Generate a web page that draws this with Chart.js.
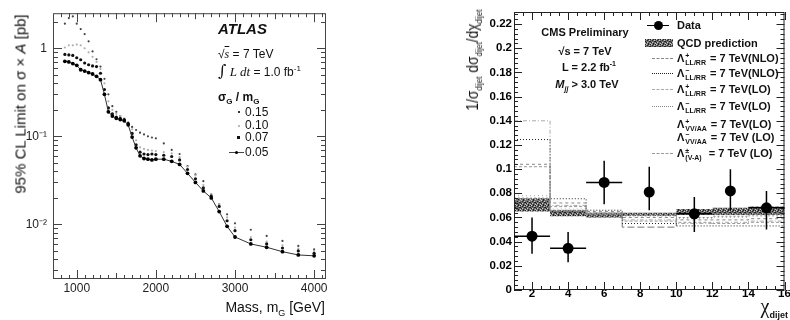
<!DOCTYPE html>
<html>
<head>
<meta charset="utf-8">
<script src="https://cdn.jsdelivr.net/npm/chart.js@4.4.1/dist/chart.umd.min.js"></script>
<style>
  body { margin:0; width:790px; height:320px; background:#fff; position:relative; overflow:hidden;
         font-family:"Liberation Sans", Arial, sans-serif; color:#111; }
  canvas { position:absolute; top:0; }
  #atlas { left:0; }
  #cms { left:400px; }
  .t { position:absolute; white-space:nowrap; line-height:1; }
  .b { font-weight:bold; }
  sub, sup { line-height:0; }
  .sym { position:absolute; }
  .st { display:inline-block; vertical-align:middle; font-size:7px; line-height:7px; margin:0 1px; }
  .st span { display:block; }
</style>
</head>
<body>
<canvas id="atlas" width="400" height="320"></canvas>
<canvas id="cms" width="390" height="320"></canvas>

<!-- ATLAS panel text -->
<div class="t" style="left:20px;top:104px;font-size:15px;transform:translate(-50%,-50%) rotate(-90deg)">95% CL Limit on σ × <i>A</i> [pb]</div>
<div class="t" style="right:465px;top:300px;font-size:14px">Mass, m<sub style="font-size:9px">G</sub> [GeV]</div>
<div class="t b" style="left:218px;top:21px;font-size:15px;font-style:italic">ATLAS</div>
<div class="t" style="left:218px;top:48px;font-size:12px">√<span style="text-decoration:overline;font-family:'Liberation Serif';font-style:italic">s</span> = 7 TeV</div>
<div class="t" style="left:218px;top:63px;font-size:12px"><span style="font-family:'DejaVu Serif';font-size:16px">∫</span> <i style="font-family:'Liberation Serif';font-size:13px">L dt</i> = 1.0 fb<sup style="font-size:8px">-1</sup></div>
<div class="t b" style="left:218px;top:91px;font-size:12px">σ<sub style="font-size:8px">G</sub> / m<sub style="font-size:8px">G</sub></div>
<div class="t" style="left:245px;top:106px;font-size:12px">0.15</div>
<div class="t" style="left:245px;top:119px;font-size:12px">0.10</div>
<div class="t" style="left:245px;top:131px;font-size:12px">0.07</div>
<div class="t" style="left:245px;top:146px;font-size:12px">0.05</div>
<div class="sym" style="left:238px;top:111px;width:2px;height:2px;background:#333"></div>
<div class="sym" style="left:238px;top:125px;width:2px;height:2px;background:#bbb"></div>
<div class="sym" style="left:237px;top:136px;width:3px;height:3px;background:#111"></div>
<div class="sym" style="left:229px;top:152px;width:15px;border-top:1px solid #444"></div>
<div class="sym" style="left:235px;top:151px;width:3px;height:3px;border-radius:2px;background:#000"></div>

<!-- CMS panel text -->
<div class="t" style="left:473px;top:60px;font-size:16px;transform:translate(-50%,-50%) rotate(-90deg) scaleX(0.86)">1/σ<sub style="font-size:9px">dijet</sub> dσ<sub style="font-size:9px">dijet</sub>/dχ<sub style="font-size:9px">dijet</sub></div>
<div class="t" style="right:2px;top:296px;font-size:20px;font-family:'Liberation Serif'">χ<sub style="font-size:9px;font-family:'Liberation Sans';font-weight:bold">dijet</sub></div>
<div class="t b" style="left:585px;top:27px;font-size:11px;transform:translateX(-50%)">CMS Preliminary</div>
<div class="t b" style="left:585px;top:46px;font-size:11px;transform:translateX(-50%)">√s = 7 TeV</div>
<div class="t b" style="left:589px;top:62px;font-size:11px;transform:translateX(-50%)">L = 2.2 fb<sup style="font-size:7px">-1</sup></div>
<div class="t b" style="left:587px;top:79px;font-size:11px;transform:translateX(-50%)"><i>M<sub style="font-size:7px">jj</sub></i> &gt; 3.0 TeV</div>

<div class="sym" style="left:647px;top:25px;width:22px;border-top:1.5px solid #000"></div>
<div class="sym" style="left:654px;top:21px;width:9px;height:9px;border-radius:5px;background:#000"></div>
<div class="t b" style="left:677px;top:20px;font-size:11px">Data</div>
<div class="sym" id="qcdSym" style="left:645px;top:39px;width:28px;height:8px"></div>
<div class="t b" style="left:677px;top:38px;font-size:11px">QCD prediction</div>

<div class="sym" style="left:652px;top:58px;width:21px;border-top:1px dashed #888"></div>
<div class="t b" style="left:677px;top:52px;font-size:11px">Λ<span class="st"><span>+</span><span>LL/RR</span></span> = 7 TeV(NLO)</div>
<div class="sym" style="left:652px;top:73px;width:21px;border-top:1px dotted #222"></div>
<div class="t b" style="left:677px;top:67px;font-size:11px">Λ<span class="st"><span>−</span><span>LL/RR</span></span> = 7 TeV(NLO)</div>
<div class="sym" style="left:652px;top:89px;width:21px;border-top:1px dashed #aaa"></div>
<div class="t b" style="left:677px;top:83px;font-size:11px">Λ<span class="st"><span>+</span><span>LL/RR</span></span> = 7 TeV(LO)</div>
<div class="sym" style="left:652px;top:106px;width:21px;border-top:1px dotted #888"></div>
<div class="t b" style="left:677px;top:100px;font-size:11px">Λ<span class="st"><span>−</span><span>LL/RR</span></span> = 7 TeV(LO)</div>
<div class="t b" style="left:677px;top:118px;font-size:11px">Λ<span class="st"><span>+</span><span>VV/AA</span></span> = 7 TeV(LO)</div>
<div class="t b" style="left:677px;top:131px;font-size:11px">Λ<span class="st"><span>−</span><span>VV/AA</span></span> = 7 TeV (LO)</div>
<div class="sym" style="left:652px;top:153px;width:21px;border-top:1px dashed #999"></div>
<div class="t b" style="left:677px;top:147px;font-size:11px">Λ<span class="st"><span>±</span><span>(V-A)</span></span> &nbsp;= 7 TeV (LO)</div>

<script>
// ---- ATLAS: limit on sigma x A versus resonance mass ----
const massG = [850, 900, 950, 1000, 1050, 1100, 1150, 1200, 1250, 1300, 1350, 1400, 1450, 1500, 1550,
  1600, 1650, 1700, 1750, 1800, 1850, 1900, 1950, 2000, 2100, 2200, 2300, 2400, 2500, 2600, 2700,
  2800, 2900, 3000, 3200, 3400, 3600, 3800, 4000];
const lim15 = [1.9, 2.2, 2.3, 1.9, 1.65, 1.45, 1.2, 0.92, 0.75, 0.62, 0.45, 0.30, 0.22, 0.19, 0.17,
  0.155, 0.14, 0.128, 0.118, 0.11, 0.105, 0.10, 0.097, 0.095, 0.083, 0.07, 0.063, 0.046, 0.037, 0.031,
  0.022, 0.017, 0.013, 0.0103, 0.0087, 0.0074, 0.0065, 0.0057, 0.0052];
const lim10 = [1.02, 1.08, 1.08, 1.10, 1.08, 1.00, 0.90, 0.80, 0.70, 0.58, 0.40, 0.25, 0.20, 0.18, 0.17,
  0.16, 0.145, 0.12, 0.09, 0.075, 0.072, 0.070, 0.069, 0.068, 0.066, 0.064, 0.058, 0.045, 0.036, 0.028,
  0.022, 0.017, 0.012, 0.0092, 0.0072, 0.0064, 0.0058, 0.0053, 0.0050];
const lim07 = [0.85, 0.84, 0.83, 0.78, 0.74, 0.68, 0.65, 0.63, 0.62, 0.52, 0.34, 0.21, 0.18, 0.165, 0.16,
  0.155, 0.14, 0.108, 0.08, 0.066, 0.063, 0.062, 0.063, 0.062, 0.061, 0.059, 0.054, 0.042, 0.033, 0.026,
  0.021, 0.016, 0.011, 0.0085, 0.0067, 0.0060, 0.0054, 0.0050, 0.0047];
const lim05 = [0.71, 0.70, 0.67, 0.64, 0.57, 0.55, 0.53, 0.51, 0.48, 0.44, 0.30, 0.19, 0.17, 0.16, 0.155,
  0.15, 0.135, 0.098, 0.074, 0.060, 0.056, 0.055, 0.054, 0.055, 0.055, 0.052, 0.048, 0.038, 0.030, 0.024,
  0.020, 0.014, 0.0095, 0.0072, 0.0060, 0.0055, 0.0049, 0.0045, 0.0044];
const massMajor = [1000, 2000, 3000, 4000];
const limMajor = [0.01, 0.1, 1];
const limMajorLabels = ['10⁻²', '10⁻¹', '1'];

// ---- CMS: normalised dijet chi distribution ----
const chiEdges = [1, 3, 5, 7, 10, 12, 14, 16];
const qcdLo = [0.065, 0.061, 0.060, 0.0615, 0.062, 0.062, 0.062];
const qcdHi = [0.076, 0.066, 0.064, 0.064, 0.067, 0.068, 0.069];
const lamLLpNLO = [0.104, 0.072, 0.065, 0.060, 0.058, 0.058, 0.059];
const lamLLmNLO = [0.1245, 0.0755, 0.066, 0.055, 0.053, 0.053, 0.053];
const lamLLpLO = [0.140, 0.070, 0.064, 0.058, 0.055, 0.056, 0.057];
const lamLLmLO = [0.076, 0.066, 0.063, 0.062, 0.060, 0.061, 0.062];
const lamVVp = [0.078, 0.067, 0.064, 0.061, 0.059, 0.060, 0.061];
const lamVVm = [0.074, 0.065, 0.062, 0.052, 0.063, 0.063, 0.063];
const lamVA = [0.102, 0.069, 0.063, 0.057, 0.056, 0.055, 0.056];
const dataChi = [2, 4, 6, 8.5, 11, 13, 15];
const dataFrac = [0.0445, 0.0345, 0.089, 0.081, 0.063, 0.082, 0.068];
const dataXLo = [1, 3, 5, 8.5, 10, 13, 14];
const dataXHi = [3, 5, 7, 8.5, 12, 13, 16];
const dataYLo = [0.030, 0.023, 0.071, 0.066, 0.048, 0.066, 0.050];
const dataYHi = [0.060, 0.048, 0.107, 0.102, 0.077, 0.100, 0.082];
const chiMajor = [2, 4, 6, 8, 10, 12, 14, 16];
const fracMajor = [0, 0.02, 0.04, 0.06, 0.08, 0.1, 0.12, 0.14, 0.16, 0.18, 0.2, 0.22];
const fracMajorLabels = ['0', '0.02', '0.04', '0.06', '0.08', '0.1', '0.12', '0.14', '0.16', '0.18', '0.2', '0.22'];

Chart.defaults.font.family = '"Liberation Sans", Arial, sans-serif';
Chart.defaults.color = '#111';

// frame box + ROOT style ticks pointing inward on all four sides
const frameTicks = {
  id: 'frameTicks',
  afterDatasetsDraw(chart, args, opts) {
    const { ctx, chartArea: a, scales } = chart;
    ctx.save();
    ctx.strokeStyle = opts.color || '#222';
    ctx.lineWidth = 1;
    ctx.strokeRect(a.left + 0.5, a.top + 0.5, a.right - a.left - 1, a.bottom - a.top - 1);
    ctx.beginPath();
    scales.x.ticks.forEach(t => {
      const p = Math.round(scales.x.getPixelForValue(t.value)) + 0.5;
      ctx.moveTo(p, a.bottom); ctx.lineTo(p, a.bottom - t.len);
      ctx.moveTo(p, a.top); ctx.lineTo(p, a.top + t.len);
    });
    scales.y.ticks.forEach(t => {
      const p = Math.round(scales.y.getPixelForValue(t.value)) + 0.5;
      ctx.moveTo(a.left, p); ctx.lineTo(a.left + t.len, p);
      ctx.moveTo(a.right, p); ctx.lineTo(a.right - t.len, p);
    });
    ctx.stroke();
    ctx.restore();
  }
};

// error bars of the data points, through the chart's scales
const errorBars = {
  id: 'errorBars',
  afterDatasetsDraw(chart) {
    const { ctx, scales: { x, y } } = chart;
    ctx.save();
    ctx.strokeStyle = '#000';
    ctx.lineWidth = 1.5;
    ctx.beginPath();
    dataChi.forEach((c, i) => {
      const px = x.getPixelForValue(c), py = y.getPixelForValue(dataFrac[i]);
      ctx.moveTo(px, y.getPixelForValue(dataYLo[i])); ctx.lineTo(px, y.getPixelForValue(dataYHi[i]));
      if (dataXHi[i] > dataXLo[i]) {
        ctx.moveTo(x.getPixelForValue(dataXLo[i]), py); ctx.lineTo(x.getPixelForValue(dataXHi[i]), py);
      }
    });
    ctx.stroke();
    ctx.restore();
  }
};

// mottled grey texture for the QCD band
function grain() {
  const c = document.createElement('canvas');
  c.width = 5; c.height = 5;
  const g = c.getContext('2d');
  g.fillStyle = '#6e6e6e'; g.fillRect(0, 0, 5, 5);
  g.fillStyle = '#222';
  [[0, 0], [2, 1], [4, 2], [1, 3], [3, 4], [3, 0], [0, 2]].forEach(([a, b]) => g.fillRect(a, b, 1, 1));
  g.fillStyle = '#c8c8c8';
  [[1, 0], [4, 1], [2, 3], [0, 4]].forEach(([a, b]) => g.fillRect(a, b, 1, 1));
  return c;
}

function pts(xs, ys) { return xs.map((v, i) => ({ x: v, y: ys[i] })); }
function steps(vals) { return chiEdges.map((e, i) => ({ x: e, y: vals[Math.min(i, vals.length - 1)] })); }

// ---------------- ATLAS chart ----------------
new Chart(document.getElementById('atlas'), {
  type: 'scatter',
  data: {
    datasets: [
      { data: pts(massG, lim05), showLine: true, borderColor: '#333', borderWidth: 1,
        pointRadius: 1.9, pointBackgroundColor: '#000', pointBorderWidth: 0 },
      { data: pts(massG, lim07), pointRadius: 1.6, pointBackgroundColor: '#111', pointBorderWidth: 0 },
      { data: pts(massG, lim10), pointRadius: 1.1, pointBackgroundColor: '#b0b0b0', pointBorderWidth: 0 },
      { data: pts(massG, lim15), pointRadius: 1.1, pointBackgroundColor: '#444', pointBorderWidth: 0 }
    ]
  },
  options: {
    responsive: false, animation: false, devicePixelRatio: 1,
    layout: { padding: { left: 0, right: 74, top: 10, bottom: 0 } },
    plugins: { legend: { display: false }, tooltip: { enabled: false }, frameTicks: { color: '#444' } },
    scales: {
      x: {
        type: 'linear', min: 700, max: 4150,
        grid: { display: false, drawTicks: false }, border: { display: false },
        afterBuildTicks: s => {
          const t = [];
          for (let v = 800; v <= 4100; v += 100) t.push({ value: v, len: v % 1000 === 0 ? 9 : (v % 500 === 0 ? 6 : 4) });
          s.ticks = t;
        },
        afterFit: s => { s.height = 41; },
        ticks: { autoSkip: false, maxRotation: 0, padding: 2, color: '#222', font: { size: 12 },
          callback: v => (massMajor.includes(v) ? String(v) : '') }
      },
      y: {
        type: 'logarithmic', min: 0.0024, max: 2.5,
        grid: { display: false, drawTicks: false }, border: { display: false },
        afterBuildTicks: s => {
          const t = [];
          for (let e = -3; e <= 0; e++) {
            for (let m = 1; m <= 9; m++) {
              const v = m * Math.pow(10, e);
              if (v >= s.min && v <= s.max) t.push({ value: v, len: m === 1 ? 9 : 5 });
            }
          }
          s.ticks = t;
        },
        afterFit: s => { s.width = 53; },
        ticks: { autoSkip: false, padding: 6, color: '#222', font: { size: 12 },
          callback: v => {
            const i = limMajor.findIndex(m => Math.abs(v / m - 1) < 1e-6);
            return i < 0 ? '' : limMajorLabels[i];
          } }
      }
    }
  },
  plugins: [frameTicks]
});

// ---------------- CMS chart ----------------
const cmsCtx = document.getElementById('cms').getContext('2d');
const band = cmsCtx.createPattern(grain(), 'repeat');
document.getElementById('qcdSym').style.background = 'url(' + grain().toDataURL() + ')';

function lam(vals, color, dash) {
  return { data: steps(vals), showLine: true, stepped: true, borderColor: color, borderWidth: 1,
           borderDash: dash, pointRadius: 0, fill: false };
}

new Chart(cmsCtx, {
  type: 'scatter',
  data: {
    datasets: [
      { data: pts(dataChi, dataFrac), pointRadius: 5.5, pointBackgroundColor: '#000', pointBorderWidth: 0 },
      lam(lamLLpNLO, '#888', [3, 3]),
      lam(lamLLmNLO, '#222', [1, 2]),
      lam(lamLLpLO, '#aaa', [4, 2, 1, 2]),
      lam(lamLLmLO, '#888', [2, 2]),
      lam(lamVVp, '#aaa', [1, 3]),
      lam(lamVVm, '#777', [7, 3]),
      lam(lamVA, '#999', [3, 2]),
      { data: steps(qcdLo), showLine: true, stepped: true, borderColor: 'rgba(0,0,0,0)', pointRadius: 0, fill: false },
      { data: steps(qcdHi), showLine: true, stepped: true, borderColor: 'rgba(0,0,0,0)', pointRadius: 0,
        fill: '-1', backgroundColor: band }
    ]
  },
  options: {
    responsive: false, animation: false, devicePixelRatio: 1,
    layout: { padding: { left: 0, right: 3, top: 12, bottom: 0 } },
    plugins: { legend: { display: false }, tooltip: { enabled: false }, frameTicks: { color: '#222' } },
    scales: {
      x: {
        type: 'linear', min: 1, max: 16,
        grid: { display: false, drawTicks: false }, border: { display: false },
        afterBuildTicks: s => {
          const t = [];
          for (let v = 1; v <= 16; v += 0.5) t.push({ value: v, len: v % 2 === 0 ? 8 : 4 });
          s.ticks = t;
        },
        afterFit: s => { s.height = 30; },
        ticks: { autoSkip: false, maxRotation: 0, padding: -3, color: '#000', font: { size: 11.5, weight: 'bold' },
          callback: v => (chiMajor.includes(v) ? String(v) : '') }
      },
      y: {
        type: 'linear', min: 0, max: 0.23,
        grid: { display: false, drawTicks: false }, border: { display: false },
        afterBuildTicks: s => {
          const t = [];
          for (let k = 0; k <= 57; k++) t.push({ value: k * 0.004, len: k % 5 === 0 ? 8 : 4 });
          s.ticks = t;
        },
        afterFit: s => { s.width = 114; },
        ticks: { autoSkip: false, padding: 2, color: '#000', font: { size: 11.5, weight: 'bold' },
          callback: v => {
            const i = fracMajor.findIndex(m => Math.abs(v - m) < 1e-9);
            return i < 0 ? '' : fracMajorLabels[i];
          } }
      }
    }
  },
  plugins: [frameTicks, errorBars]
});
</script>
</body>
</html>
